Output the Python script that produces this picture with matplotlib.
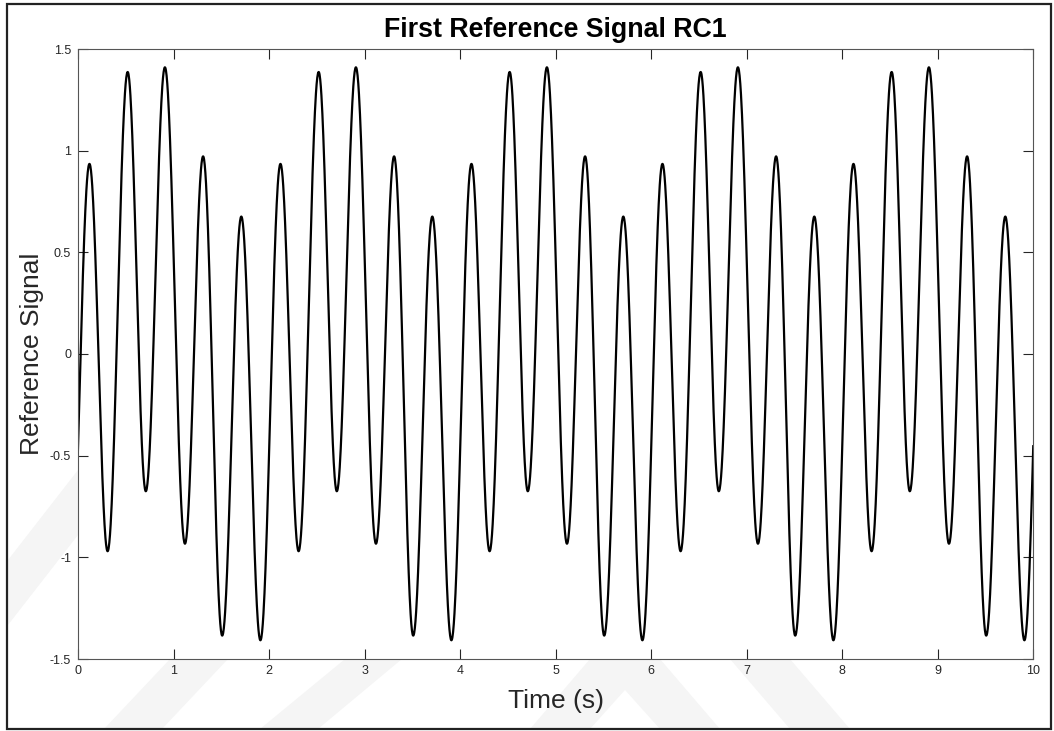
import numpy as np
import matplotlib
matplotlib.use('Agg')
import matplotlib.pyplot as plt
from matplotlib.patches import Polygon, Rectangle

# extrema of the reference signal
peak_times = [0.12, 0.52, 0.91, 1.31, 1.71, 2.12, 2.52, 2.91, 3.31, 3.71,
              4.12, 4.52, 4.91, 5.31, 5.71, 6.12, 6.52, 6.91, 7.31, 7.71,
              8.12, 8.52, 8.91, 9.31, 9.71]
peak_vals = [0.935, 1.387, 1.41, 0.972, 0.676, 0.935, 1.387, 1.41, 0.972, 0.676,
             0.935, 1.387, 1.41, 0.972, 0.676, 0.935, 1.387, 1.41, 0.972, 0.676,
             0.935, 1.387, 1.41, 0.972, 0.676]
trough_times = [0.31, 0.71, 1.12, 1.51, 1.91, 2.31, 2.71, 3.12, 3.51, 3.91,
                4.31, 4.71, 5.12, 5.51, 5.91, 6.31, 6.71, 7.12, 7.51, 7.91,
                8.31, 8.71, 9.12, 9.51, 9.91]
trough_vals = [-0.970, -0.675, -0.933, -1.385, -1.408, -0.970, -0.675, -0.933, -1.385, -1.408,
               -0.970, -0.675, -0.933, -1.385, -1.408, -0.970, -0.675, -0.933, -1.385, -1.408,
               -0.970, -0.675, -0.933, -1.385, -1.408]
# extrema just outside the plotted window (curve enters at -0.45 and leaves at -0.45)
edge_times = [-0.094, 10.12]
edge_vals = [-1.408, 0.935]

xticks = [0, 1, 2, 3, 4, 5, 6, 7, 8, 9, 10]
yticks = [-1.5, -1, -0.5, 0, 0.5, 1, 1.5]
ytick_labels = ['-1.5', '-1', '-0.5', '0', '0.5', '1', '1.5']

W, H = 1054, 731
FONT = ['Liberation Sans', 'DejaVu Sans']


def px(x, y):
    return (x / W, 1 - y / H)


# join extrema with smooth half-cosine strokes
ext_t = np.array(peak_times + trough_times + edge_times)
ext_v = np.array(peak_vals + trough_vals + edge_vals)
order = np.argsort(ext_t)
ext_t = ext_t[order]
ext_v = ext_v[order]
tt = []
vv = []
for i in range(len(ext_t) - 1):
    s = np.linspace(0, 1, 60)
    tt.append(ext_t[i] + (ext_t[i + 1] - ext_t[i]) * s)
    vv.append(ext_v[i] + (ext_v[i + 1] - ext_v[i]) * (1 - np.cos(np.pi * s)) / 2)
tt = np.concatenate(tt)
vv = np.concatenate(vv)

fig = plt.figure(figsize=(W / 100, H / 100), dpi=100)
fig.patch.set_facecolor('white')

# faint watermark stripes behind the axes
marks = [
    [(8, 560), (78, 470), (78, 535), (8, 625)],
    [(170, 659), (228, 659), (162, 729), (104, 729)],
    [(345, 659), (402, 659), (318, 729), (260, 729)],
    [(590, 659), (660, 659), (720, 729), (660, 729), (625, 690), (590, 729), (530, 729)],
    [(730, 659), (790, 659), (850, 729), (790, 729)],
]
for m in marks:
    fig.patches.append(Polygon([px(*p) for p in m], closed=True, transform=fig.transFigure,
                               facecolor='#f5f5f5', edgecolor='none', zorder=-2))

# outer frame
x0, y0 = px(7, 729)
fig.patches.append(Rectangle((x0, y0), 1044 / W, 725 / H, transform=fig.transFigure,
                             fill=False, edgecolor='#222222', linewidth=1.6, zorder=-1))

ax = fig.add_axes([78 / W, 1 - 659 / H, 955 / W, 610 / H])
ax.plot(tt, vv, color='black', linewidth=1.6)

ax.set_xlim(0, 10)
ax.set_ylim(-1.5, 1.5)
ax.set_xticks(xticks)
ax.set_yticks(yticks)
ax.set_yticklabels(ytick_labels)
ax.tick_params(direction='in', length=7, width=0.8, top=True, right=True,
               labelsize=9, labelcolor='#262626', color='#262626')
ax.tick_params(axis='x', pad=4)
ax.tick_params(axis='y', pad=5)
for sp in ax.spines.values():
    sp.set_color('#555555')
    sp.set_linewidth(0.8)

for lbl in ax.get_xticklabels() + ax.get_yticklabels():
    lbl.set_family(FONT)

ax.set_title('First Reference Signal RC1', fontsize=19.3, fontweight='bold',
             family=FONT, pad=8.5)
ax.set_xlabel('Time (s)', fontsize=19, color='#262626', family=FONT)
ax.set_ylabel('Reference Signal', fontsize=19, color='#262626', family=FONT)
ax.xaxis.set_label_coords(0.5, -0.049)
ax.yaxis.set_label_coords(-0.036, 0.5)

fig.savefig('out.png', dpi=100)
